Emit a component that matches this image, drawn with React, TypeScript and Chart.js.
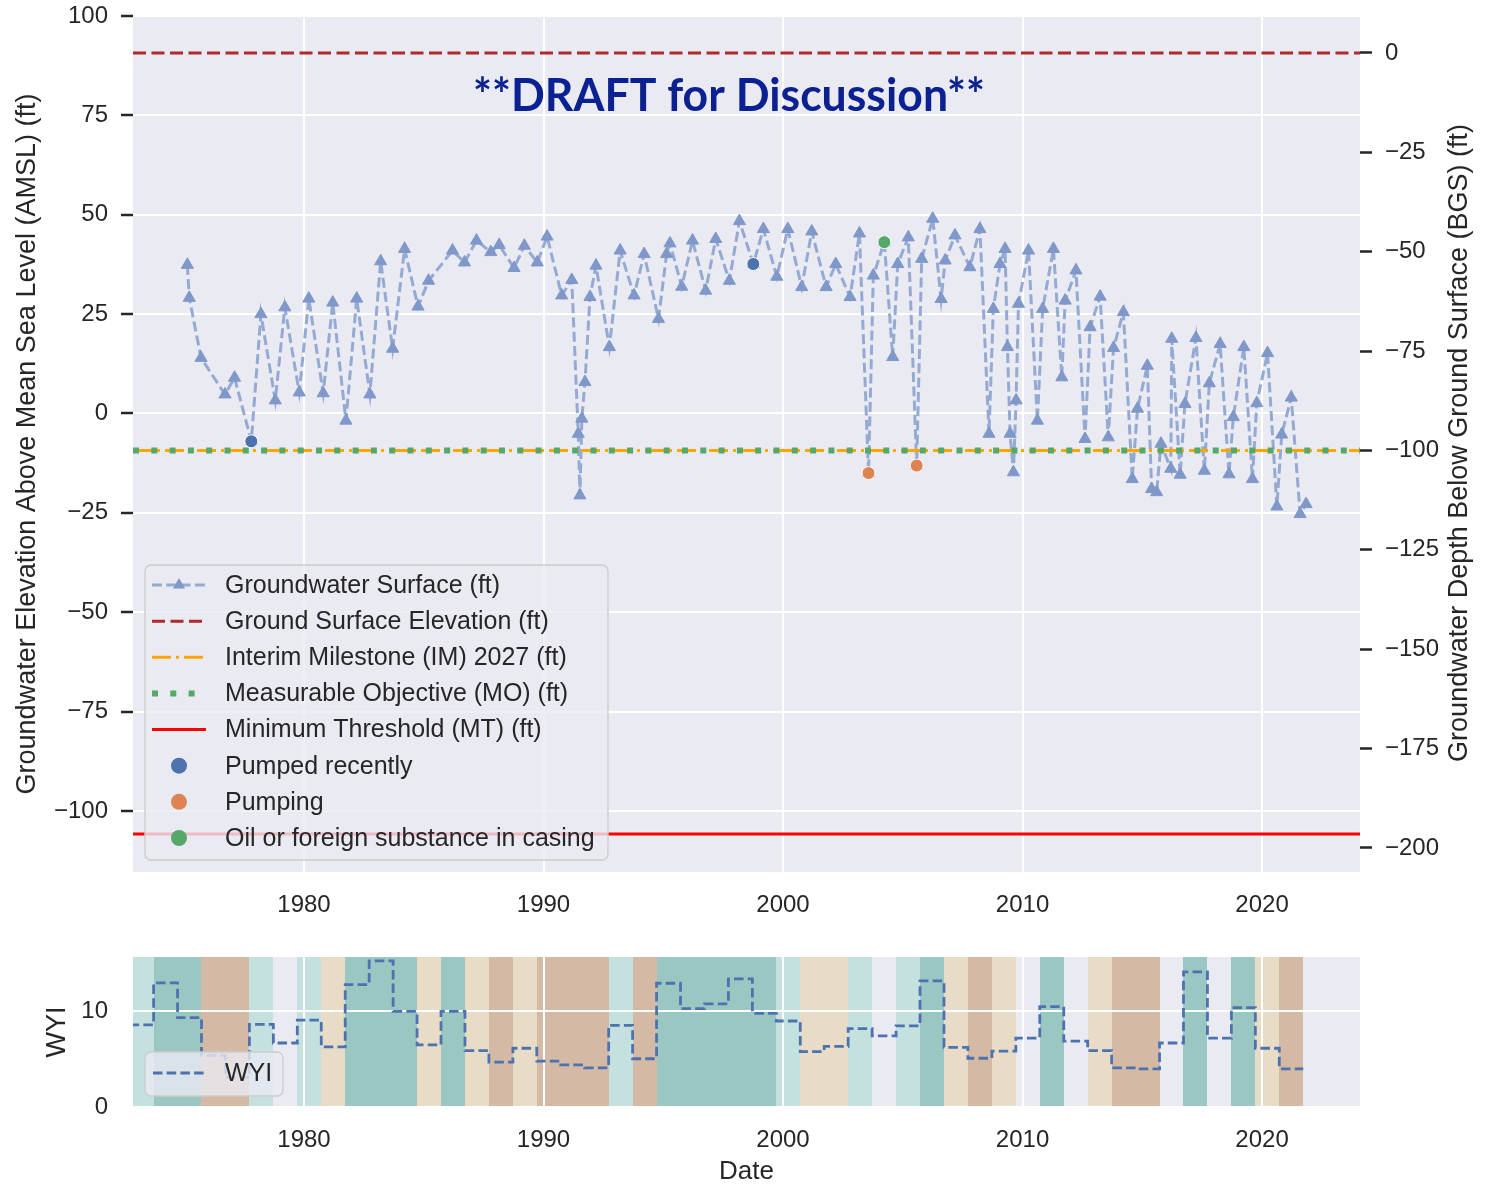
import React, { useEffect, useRef } from "react";
import { Chart, registerables } from "chart.js";

Chart.register(...registerables);

const FONT = '"Liberation Sans", Arial, Helvetica, sans-serif';
Chart.defaults.font.family = FONT;
Chart.defaults.color = "#262626";

// ---------------- DATA ----------------
const gwYears = [
  1975.13, 1975.21, 1975.7, 1976.7, 1977.1, 1977.8, 1978.2, 1978.8, 1979.2, 1979.8,
  1980.2, 1980.8, 1981.2, 1981.75, 1982.2, 1982.75, 1983.2, 1983.7, 1984.2, 1984.76,
  1985.2, 1986.2, 1986.7, 1987.2, 1987.8, 1988.15, 1988.77, 1989.2, 1989.74, 1990.15,
  1990.76, 1991.18, 1991.45, 1991.52, 1991.6, 1991.73, 1991.94, 1992.19, 1992.75, 1993.2,
  1993.78, 1994.2, 1994.8, 1995.14, 1995.28, 1995.77, 1996.22, 1996.77, 1997.19, 1997.76,
  1998.18, 1998.76, 1999.18, 1999.74, 2000.2, 2000.78, 2001.2, 2001.8, 2002.2, 2002.8,
  2003.19, 2003.57, 2003.77, 2004.23, 2004.58, 2004.79, 2005.23, 2005.58, 2005.79, 2006.25,
  2006.6, 2006.77, 2007.18, 2007.8, 2008.22, 2008.6, 2008.78, 2009.06, 2009.27, 2009.37,
  2009.48, 2009.62, 2009.73, 2009.83, 2010.25, 2010.62, 2010.84, 2011.29, 2011.64, 2011.78,
  2012.23, 2012.61, 2012.82, 2013.24, 2013.58, 2013.8, 2014.21, 2014.58, 2014.8, 2015.21,
  2015.39, 2015.6, 2015.78, 2016.19, 2016.23, 2016.58, 2016.78, 2017.24, 2017.59, 2017.8,
  2018.25, 2018.62, 2018.8, 2019.24, 2019.6, 2019.78, 2020.23, 2020.62, 2020.82, 2021.22,
  2021.59, 2021.84,
];
const gwValues = [
  37.4, 29.1, 14.0, 4.8, 9.0, -7.0, 25.0, 3.3, 26.7, 5.3,
  28.9, 5.1, 27.9, -1.8, 28.9, 4.8, 38.3, 16.3, 41.4, 26.9,
  33.4, 41.0, 38.0, 43.5, 40.6, 42.4, 36.6, 42.2, 38.0, 44.5,
  29.7, 33.6, -5.1, -20.6, -1.3, 7.9, 29.3, 37.2, 16.7, 41.0,
  29.7, 40.1, 23.8, 40.1, 42.8, 31.9, 43.5, 30.9, 43.9, 33.4,
  48.4, 37.6, 46.4, 34.4, 46.4, 31.8, 45.8, 31.8, 37.6, 29.3,
  45.3, -15.0, 34.7, 43.1, 14.2, 37.6, 44.3, -13.1, 38.9, 49.0,
  28.8, 38.5, 44.8, 36.8, 46.4, -5.1, 26.3, 37.6, 41.4, 16.7,
  -5.1, -14.8, 3.3, 27.6, 41.0, -1.8, 26.3, 41.4, 9.1, 28.4,
  36.0, -6.4, 21.7, 29.4, -6.0, 16.5, 25.5, -16.5, 1.2, 12.0,
  -19.0, -19.8, -7.6, -13.9, 18.8, -15.4, 2.4, 19.0, -14.4, 7.6,
  17.5, -15.3, -0.9, 16.7, -16.5, 2.6, 15.2, -23.4, -5.3, 4.0,
  -25.3, -22.8,
];

const pumpedRecentlyYears = [1977.8, 1998.76];
const pumpedRecentlyValues = [-7.0, 37.6];
const pumpingYears = [2003.57, 2005.58];
const pumpingValues = [-15.0, -13.1];
const oilYears = [2004.23];
const oilValues = [43.1];

const groundSurfaceElevation = 90.7;
const interimMilestone2027 = -9.3;
const measurableObjective = -9.3;
const minimumThreshold = -105.8;

const X_MIN = 1972.86;
const X_MAX = 2024.09;
const LEFT_MIN = -115.35;
const LEFT_MAX = 100;

const xTicks = [1980, 1990, 2000, 2010, 2020];
const leftTicks = [100, 75, 50, 25, 0, -25, -50, -75, -100];
const rightTicks = [0, -25, -50, -75, -100, -125, -150, -175, -200];

const waterYears = [
  1973, 1974, 1975, 1976, 1977, 1978, 1979, 1980, 1981, 1982,
  1983, 1984, 1985, 1986, 1987, 1988, 1989, 1990, 1991, 1992,
  1993, 1994, 1995, 1996, 1997, 1998, 1999, 2000, 2001, 2002,
  2003, 2004, 2005, 2006, 2007, 2008, 2009, 2010, 2011, 2012,
  2013, 2014, 2015, 2016, 2017, 2018, 2019, 2020, 2021,
];
const wyiValues = [
  8.6, 13.0, 9.35, 5.4, 3.1, 8.65, 6.7, 9.1, 6.3, 12.8,
  15.3, 10.0, 6.5, 10.0, 5.9, 4.7, 6.15, 4.8, 4.4, 4.1,
  8.55, 5.05, 12.95, 10.3, 10.8, 13.4, 9.8, 9.0, 5.8, 6.35,
  8.2, 7.45, 8.5, 13.2, 6.25, 5.1, 5.85, 7.2, 10.5, 6.9,
  5.9, 4.1, 4.0, 6.7, 14.15, 7.2, 10.4, 6.15, 4.0,
];
const wyTypes = [
  "AN", "W", "W", "C", "C", "AN", "BN", "AN", "D", "W",
  "W", "W", "D", "W", "D", "C", "D", "C", "C", "C",
  "AN", "C", "W", "W", "W", "W", "W", "AN", "D", "D",
  "AN", "BN", "AN", "W", "D", "C", "D", "BN", "W", "BN",
  "D", "C", "C", "BN", "W", "BN", "W", "D", "C",
];
const WYI_MAX = 15.7;
const wyiTicks = [0, 10];
const WY_START_OFFSET = 0.72; // water year begins ~Oct 1 of previous year

// ---------------- STYLE ----------------
const PLOT_BG = "#eaeaf2";
const TEXT = "#262626";
const wyColors: Record<string, string | null> = {
  W: "#9bc7c3",
  AN: "#c4e1e0",
  BN: null,
  D: "#e8dcc7",
  C: "#d4b9a5",
};

const fmt = (v: number) => (v < 0 ? "\u2212" + Math.abs(v) : String(v));

function roundRect(ctx: CanvasRenderingContext2D, x: number, y: number, w: number, h: number, r: number) {
  ctx.beginPath();
  ctx.moveTo(x + r, y);
  ctx.lineTo(x + w - r, y);
  ctx.arcTo(x + w, y, x + w, y + r, r);
  ctx.lineTo(x + w, y + h - r);
  ctx.arcTo(x + w, y + h, x + w - r, y + h, r);
  ctx.lineTo(x + r, y + h);
  ctx.arcTo(x, y + h, x, y + h - r, r);
  ctx.lineTo(x, y + r);
  ctx.arcTo(x, y, x + r, y, r);
  ctx.closePath();
}

function drawLineSample(ctx: CanvasRenderingContext2D, x0: number, x1: number, y: number, color: string, width: number, dash: number[]) {
  ctx.save();
  ctx.strokeStyle = color;
  ctx.lineWidth = width;
  ctx.setLineDash(dash || []);
  ctx.lineCap = "butt";
  ctx.beginPath();
  ctx.moveTo(x0, y);
  ctx.lineTo(x1, y);
  ctx.stroke();
  ctx.restore();
}

function drawTriangle(ctx: CanvasRenderingContext2D, x: number, y: number, r: number, color: string) {
  ctx.save();
  ctx.fillStyle = color;
  ctx.beginPath();
  for (let k = 0; k < 3; k++) {
    const a = (k * 2 * Math.PI) / 3;
    const px = x + Math.sin(a) * r;
    const py = y - Math.cos(a) * r;
    if (k === 0) ctx.moveTo(px, py);
    else ctx.lineTo(px, py);
  }
  ctx.closePath();
  ctx.fill();
  ctx.restore();
}

const bgPlugin = {
  id: "plotBg",
  beforeDraw(chart: any) {
    const { ctx, chartArea: a } = chart;
    ctx.save();
    ctx.fillStyle = PLOT_BG;
    ctx.fillRect(a.left, a.top, a.right - a.left, a.bottom - a.top);
    ctx.restore();
  },
};

const bandsPlugin = {
  id: "wyBands",
  beforeDraw(chart: any) {
    const { ctx, chartArea: a, scales } = chart;
    const xs = scales.x;
    ctx.save();
    let i = 0;
    while (i < waterYears.length) {
      let j = i;
      while (j + 1 < waterYears.length && wyTypes[j + 1] === wyTypes[i]) j++;
      const c = wyColors[wyTypes[i]];
      if (c) {
        const s = waterYears[i] - 1 + WY_START_OFFSET;
        const e = waterYears[j] + WY_START_OFFSET;
        const x0 = Math.max(Math.round(xs.getPixelForValue(s)), a.left);
        const x1 = Math.min(Math.round(xs.getPixelForValue(e)), a.right);
        if (x1 > x0) {
          ctx.fillStyle = c;
          ctx.fillRect(x0, a.top, x1 - x0, a.bottom - a.top);
        }
      }
      i = j + 1;
    }
    ctx.restore();
  },
};

const draftPlugin = {
  id: "draftText",
  afterDatasetsDraw(chart: any) {
    const ctx = chart.ctx;
    ctx.save();
    ctx.font = 'bold 45px Lato, "Open Sans", sans-serif';
    ctx.fillStyle = "#0b2191";
    ctx.textAlign = "center";
    ctx.textBaseline = "middle";
    ctx.fillText("**DRAFT for Discussion**", 729, 96, 512);
    ctx.restore();
  },
};

const rightTitlePlugin = {
  id: "rightTitle",
  afterDraw(chart: any) {
    const ctx = chart.ctx;
    const a = chart.chartArea;
    ctx.save();
    ctx.translate(1460, (a.top + a.bottom) / 2 - 1);
    ctx.rotate(-Math.PI / 2);
    ctx.font = `27px ${FONT}`;
    ctx.fillStyle = TEXT;
    ctx.textAlign = "center";
    ctx.textBaseline = "middle";
    ctx.fillText("Groundwater Depth Below Ground Surface (BGS) (ft)", 0, 0);
    ctx.restore();
  },
};

const mainLegendPlugin = {
  id: "mainLegend",
  afterDraw(chart: any) {
    const ctx: CanvasRenderingContext2D = chart.ctx;
    ctx.save();
    roundRect(ctx, 145, 565, 463, 295, 6);
    ctx.fillStyle = "rgba(234,234,242,0.8)";
    ctx.fill();
    ctx.strokeStyle = "#cccccc";
    ctx.lineWidth = 1.3;
    ctx.stroke();
    const ds = chart.data.datasets;
    const y0 = 585;
    const dy = 36.14;
    ds.forEach((d: any, i: number) => {
      const y = y0 + i * dy;
      if (d.showLine === false) {
        ctx.beginPath();
        ctx.arc(179, y, 8, 0, Math.PI * 2);
        ctx.fillStyle = d.pointBackgroundColor;
        ctx.fill();
      } else {
        drawLineSample(ctx, 152, 206, y, d.borderColor, d.borderWidth, d.borderDash);
        if (d.pointStyle === "triangle") drawTriangle(ctx, 179, y, 7, d.pointBackgroundColor);
      }
      ctx.font = `25px ${FONT}`;
      ctx.fillStyle = TEXT;
      ctx.textAlign = "left";
      ctx.textBaseline = "middle";
      ctx.fillText(d.label, 225, y + 1);
    });
    ctx.restore();
  },
};

const subLegendPlugin = {
  id: "subLegend",
  afterDraw(chart: any) {
    const ctx: CanvasRenderingContext2D = chart.ctx;
    ctx.save();
    roundRect(ctx, 145, 117, 138, 44, 6);
    ctx.fillStyle = "rgba(234,234,242,0.8)";
    ctx.fill();
    ctx.strokeStyle = "#cccccc";
    ctx.lineWidth = 1.3;
    ctx.stroke();
    const d: any = chart.data.datasets[0];
    drawLineSample(ctx, 153, 205, 138, d.borderColor, d.borderWidth, d.borderDash);
    ctx.font = `25px ${FONT}`;
    ctx.fillStyle = TEXT;
    ctx.textAlign = "left";
    ctx.textBaseline = "middle";
    ctx.fillText(d.label, 225, 139);
    ctx.restore();
  },
};

const hline = (v: number) => [
  { x: X_MIN, y: v },
  { x: X_MAX, y: v },
];
const pts = (xs: number[], ys: number[]) => xs.map((x, i) => ({ x, y: ys[i] }));

const fixWidth = (w: number) => (s: any) => {
  s.width = w;
  s.paddingTop = 0;
  s.paddingBottom = 0;
};
const fixHeight = (h: number) => (s: any) => {
  s.height = h;
  s.paddingLeft = 0;
  s.paddingRight = 0;
};

export default function App() {
  const mainRef = useRef<HTMLCanvasElement>(null);
  const subRef = useRef<HTMLCanvasElement>(null);

  useEffect(() => {
    const tickFont = { size: 24 };
    const main = new Chart(mainRef.current as HTMLCanvasElement, {
      type: "line",
      data: {
        datasets: [
          {
            label: "Groundwater Surface (ft)",
            data: pts(gwYears, gwValues),
            borderColor: "#95aad3",
            borderWidth: 3,
            borderDash: [10, 4.3],
            pointStyle: "triangle",
            pointRadius: 7,
            pointBackgroundColor: "#7f98c9",
            pointBorderColor: "#7f98c9",
            pointBorderWidth: 1,
            tension: 0,
            fill: false,
            order: 10,
          },
          {
            label: "Ground Surface Elevation (ft)",
            data: hline(groundSurfaceElevation),
            borderColor: "#b02a2a",
            borderWidth: 3,
            borderDash: [13, 5.5],
            pointRadius: 0,
            fill: false,
            order: 6,
          },
          {
            label: "Interim Milestone (IM) 2027 (ft)",
            data: hline(interimMilestone2027),
            borderColor: "#ffa500",
            borderWidth: 3,
            borderDash: [19, 5, 3, 5],
            pointRadius: 0,
            fill: false,
            order: 5,
          },
          {
            label: "Measurable Objective (MO) (ft)",
            data: hline(measurableObjective),
            borderColor: "#55a868",
            borderWidth: 6,
            borderDash: [6, 12.3],
            pointRadius: 0,
            fill: false,
            order: 4,
          },
          {
            label: "Minimum Threshold (MT) (ft)",
            data: hline(minimumThreshold),
            borderColor: "#ff0000",
            borderWidth: 3,
            pointRadius: 0,
            fill: false,
            order: 3,
          },
          {
            label: "Pumped recently",
            data: pts(pumpedRecentlyYears, pumpedRecentlyValues),
            showLine: false,
            borderColor: "#4c72b0",
            pointRadius: 6.5,
            pointBackgroundColor: "#4c72b0",
            pointBorderColor: "#ffffff",
            pointBorderWidth: 1,
            order: 0,
          },
          {
            label: "Pumping",
            data: pts(pumpingYears, pumpingValues),
            showLine: false,
            borderColor: "#dd8452",
            pointRadius: 6.5,
            pointBackgroundColor: "#dd8452",
            pointBorderColor: "#ffffff",
            pointBorderWidth: 1,
            order: 0,
          },
          {
            label: "Oil or foreign substance in casing",
            data: pts(oilYears, oilValues),
            showLine: false,
            borderColor: "#55a868",
            pointRadius: 6.5,
            pointBackgroundColor: "#55a868",
            pointBorderColor: "#ffffff",
            pointBorderWidth: 1,
            order: 0,
          },
        ] as any,
      },
      options: {
        animation: false,
        responsive: false,
        devicePixelRatio: 1,
        layout: { padding: { top: 16, left: 0, right: 0, bottom: 0 } },
        plugins: { legend: { display: false }, tooltip: { enabled: false }, title: { display: false } },
        scales: {
          x: {
            type: "linear",
            min: X_MIN,
            max: X_MAX,
            afterBuildTicks: (s: any) => {
              s.ticks = xTicks.map((v) => ({ value: v }));
            },
            afterFit: fixHeight(63),
            grid: { color: "#ffffff", lineWidth: 2, drawTicks: false },
            border: { display: false },
            ticks: { padding: 19, font: tickFont, color: TEXT, callback: (v: any) => String(v) },
          },
          y: {
            type: "linear",
            position: "left",
            min: LEFT_MIN,
            max: LEFT_MAX,
            afterBuildTicks: (s: any) => {
              s.ticks = leftTicks.map((v) => ({ value: v }));
            },
            afterFit: fixWidth(133),
            grid: { color: "#ffffff", lineWidth: 2, tickColor: TEXT, tickLength: 12, tickWidth: 2.5 },
            border: { display: false },
            ticks: { padding: 13, font: tickFont, color: TEXT, callback: (v: any) => fmt(Number(v)) },
            title: {
              display: true,
              text: "Groundwater Elevation Above Mean Sea Level (AMSL) (ft)",
              font: { size: 27 },
              color: TEXT,
              padding: { top: 11, bottom: 0 },
            },
          },
          y2: {
            type: "linear",
            position: "right",
            min: LEFT_MIN - groundSurfaceElevation,
            max: LEFT_MAX - groundSurfaceElevation,
            afterBuildTicks: (s: any) => {
              s.ticks = rightTicks.map((v) => ({ value: v }));
            },
            afterFit: fixWidth(128),
            grid: { drawOnChartArea: false, tickColor: TEXT, tickLength: 12, tickWidth: 2.5 },
            border: { display: false },
            ticks: { padding: 13, font: tickFont, color: TEXT, callback: (v: any) => fmt(Number(v)) },
          },
        },
      } as any,
      plugins: [bgPlugin, draftPlugin, mainLegendPlugin, rightTitlePlugin],
    });

    const wyiPoints = waterYears.map((y, i) => ({ x: y - 1 + WY_START_OFFSET, y: wyiValues[i] }));
    wyiPoints.push({
      x: waterYears[waterYears.length - 1] + WY_START_OFFSET,
      y: wyiValues[wyiValues.length - 1],
    });

    const sub = new Chart(subRef.current as HTMLCanvasElement, {
      type: "line",
      data: {
        datasets: [
          {
            label: "WYI",
            data: wyiPoints,
            stepped: true,
            borderColor: "#4c72b0",
            borderWidth: 2.8,
            borderDash: [9.5, 4.2],
            pointRadius: 0,
            fill: false,
          },
        ] as any,
      },
      options: {
        animation: false,
        responsive: false,
        devicePixelRatio: 1,
        layout: { padding: { top: 22, left: 0, right: 128, bottom: 0 } },
        plugins: { legend: { display: false }, tooltip: { enabled: false }, title: { display: false } },
        scales: {
          x: {
            type: "linear",
            min: X_MIN,
            max: X_MAX,
            afterBuildTicks: (s: any) => {
              s.ticks = xTicks.map((v) => ({ value: v }));
            },
            afterFit: fixHeight(80),
            grid: { color: "#ffffff", lineWidth: 2, drawTicks: false },
            border: { display: false },
            ticks: { padding: 19, font: tickFont, color: TEXT, callback: (v: any) => String(v) },
            title: { display: true, text: "Date", font: { size: 26 }, color: TEXT, padding: { top: 0, bottom: 0 } },
          },
          y: {
            type: "linear",
            position: "left",
            min: 0,
            max: WYI_MAX,
            afterBuildTicks: (s: any) => {
              s.ticks = wyiTicks.map((v) => ({ value: v }));
            },
            afterFit: fixWidth(133),
            grid: { color: "#ffffff", lineWidth: 2, drawTicks: false },
            border: { display: false },
            ticks: { padding: 25, font: tickFont, color: TEXT, callback: (v: any) => fmt(Number(v)) },
            title: { display: true, text: "WYI", font: { size: 27 }, color: TEXT, padding: { top: 41, bottom: 0 } },
          },
        },
      } as any,
      plugins: [bgPlugin, bandsPlugin, subLegendPlugin],
    });

    return () => {
      main.destroy();
      sub.destroy();
    };
  }, []);

  return (
    <div style={{ position: "absolute", left: 0, top: 0, width: 1488, height: 1187, background: "#ffffff", overflow: "hidden" }}>
      <canvas
        ref={mainRef}
        width={1488}
        height={935}
        style={{ position: "absolute", left: 0, top: 0, width: 1488, height: 935 }}
      />
      <canvas
        ref={subRef}
        width={1488}
        height={252}
        style={{ position: "absolute", left: 0, top: 935, width: 1488, height: 252 }}
      />
    </div>
  );
}
